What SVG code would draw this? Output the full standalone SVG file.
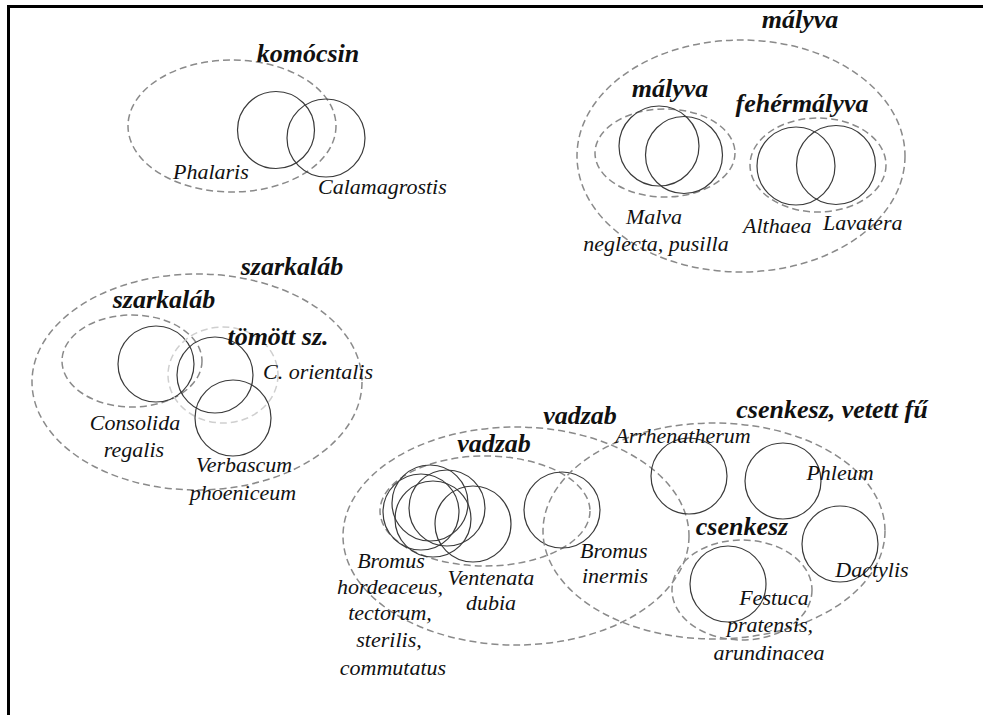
<svg xmlns="http://www.w3.org/2000/svg" width="983" height="715" viewBox="0 0 983 715">
  <style>
    .frame { fill: none; stroke: #000; stroke-width: 3; }
    .taxon { fill: none; stroke: #3a3a3a; stroke-width: 1.2; }
    .group { fill: none; stroke: #8a8a8a; stroke-width: 1.5; stroke-dasharray: 7 4; }
    .group.light { stroke: #cfcfcf; }
    .sp { font-family: "Liberation Serif", "Times New Roman", serif; font-style: italic; font-size: 22px; fill: #111; }
    .name { font-family: "Liberation Serif", "Times New Roman", serif; font-style: italic; font-weight: bold; font-size: 26px; fill: #111; }
  </style>
  <rect width="983" height="715" fill="#fff"/>
  <path class="frame" d="M8.5,715 V6.5 H983"/>

  <!-- komócsin: Phalaris + Calamagrostis -->
  <g id="komocsin">
    <ellipse class="group" cx="232" cy="126" rx="104" ry="66"/>
    <circle class="taxon" cx="276" cy="130" r="38.5"/>
    <circle class="taxon" cx="326" cy="138" r="39"/>
    <text class="name" x="308" y="62" text-anchor="middle">komócsin</text>
    <text class="sp" x="173" y="179">Phalaris</text>
    <text class="sp" x="318" y="194">Calamagrostis</text>
  </g>

  <!-- mályva -->
  <g id="malyva">
    <ellipse class="group" cx="741" cy="156" rx="164" ry="116"/>
    <text class="name" x="800" y="28" text-anchor="middle">mályva</text>
    <g id="malyva-inner">
      <ellipse class="group" cx="665" cy="153" rx="70" ry="44"/>
      <circle class="taxon" cx="659" cy="146" r="40"/>
      <circle class="taxon" cx="684" cy="155" r="38.5"/>
      <text class="name" x="670" y="97" text-anchor="middle">mályva</text>
      <text class="sp" x="654" y="224" text-anchor="middle">Malva</text>
      <text class="sp" x="656" y="251" text-anchor="middle">neglecta, pusilla</text>
    </g>
    <g id="fehermalyva">
      <ellipse class="group" cx="818" cy="165" rx="68" ry="47"/>
      <circle class="taxon" cx="796" cy="166" r="39"/>
      <circle class="taxon" cx="836" cy="165" r="39.5"/>
      <text class="name" x="802" y="112" text-anchor="middle">fehérmályva</text>
      <text class="sp" x="743" y="233">Althaea</text>
      <text class="sp" x="823" y="230">Lavatera</text>
    </g>
  </g>

  <!-- szarkaláb -->
  <g id="szarkalab">
    <ellipse class="group" cx="197" cy="382" rx="165" ry="108"/>
    <text class="name" x="292" y="275" text-anchor="middle">szarkaláb</text>
    <g id="szarkalab-inner">
      <ellipse class="group" cx="132" cy="361" rx="70" ry="46"/>
      <circle class="taxon" cx="156" cy="364" r="38"/>
      <text class="name" x="164" y="308" text-anchor="middle">szarkaláb</text>
      <text class="sp" x="135" y="430" text-anchor="middle">Consolida</text>
      <text class="sp" x="134" y="457" text-anchor="middle">regalis</text>
    </g>
    <g id="tomott">
      <ellipse class="group light" cx="223" cy="375" rx="55" ry="48"/>
      <circle class="taxon" cx="215" cy="375" r="38"/>
      <text class="name" x="278" y="345" text-anchor="middle">tömött sz.</text>
      <text class="sp" x="263" y="379">C. orientalis</text>
    </g>
    <g id="verbascum">
      <circle class="taxon" cx="233" cy="418" r="38"/>
      <text class="sp" x="244" y="472" text-anchor="middle">Verbascum</text>
      <text class="sp" x="243" y="500" text-anchor="middle">phoeniceum</text>
    </g>
  </g>

  <!-- vadzab -->
  <g id="vadzab">
    <ellipse class="group" cx="516" cy="536" rx="173" ry="109"/>
    <text class="name" x="580" y="424" text-anchor="middle">vadzab</text>
    <g id="vadzab-inner">
      <ellipse class="group" cx="485" cy="511" rx="105" ry="55"/>
      <circle class="taxon" cx="421" cy="512" r="38"/>
      <circle class="taxon" cx="430" cy="503" r="38"/>
      <circle class="taxon" cx="433" cy="519" r="38"/>
      <circle class="taxon" cx="447" cy="508" r="38"/>
      <circle class="taxon" cx="473" cy="524" r="38"/>
      <text class="name" x="494" y="452" text-anchor="middle">vadzab</text>
      <text class="sp" x="391" y="568" text-anchor="middle">Bromus</text>
      <text class="sp" x="390" y="594" text-anchor="middle">hordeaceus,</text>
      <text class="sp" x="390" y="620" text-anchor="middle">tectorum,</text>
      <text class="sp" x="389" y="647" text-anchor="middle">sterilis,</text>
      <text class="sp" x="393" y="675" text-anchor="middle">commutatus</text>
      <text class="sp" x="491" y="585" text-anchor="middle">Ventenata</text>
      <text class="sp" x="491" y="610" text-anchor="middle">dubia</text>
    </g>
    <g id="bromus-inermis">
      <circle class="taxon" cx="562" cy="510" r="38"/>
      <text class="sp" x="580" y="558">Bromus</text>
      <text class="sp" x="582" y="583">inermis</text>
    </g>
  </g>

  <!-- csenkesz, vetett fű -->
  <g id="csenkesz-vetett-fu">
    <ellipse class="group" cx="714" cy="531" rx="171" ry="108"/>
    <text class="name" x="832" y="418" text-anchor="middle">csenkesz, vetett fű</text>
    <circle class="taxon" cx="689" cy="476" r="38"/>
    <text class="sp" x="683" y="443" text-anchor="middle">Arrhenatherum</text>
    <circle class="taxon" cx="783" cy="481" r="38"/>
    <text class="sp" x="840" y="480" text-anchor="middle">Phleum</text>
    <circle class="taxon" cx="840" cy="544" r="38"/>
    <text class="sp" x="872" y="577" text-anchor="middle">Dactylis</text>
    <g id="csenkesz">
      <ellipse class="group" cx="742" cy="590" rx="70" ry="50"/>
      <circle class="taxon" cx="728" cy="584" r="38"/>
      <text class="name" x="742" y="535" text-anchor="middle">csenkesz</text>
      <text class="sp" x="774" y="605" text-anchor="middle">Festuca</text>
      <text class="sp" x="770" y="632" text-anchor="middle">pratensis,</text>
      <text class="sp" x="769" y="660" text-anchor="middle">arundinacea</text>
    </g>
  </g>
</svg>
